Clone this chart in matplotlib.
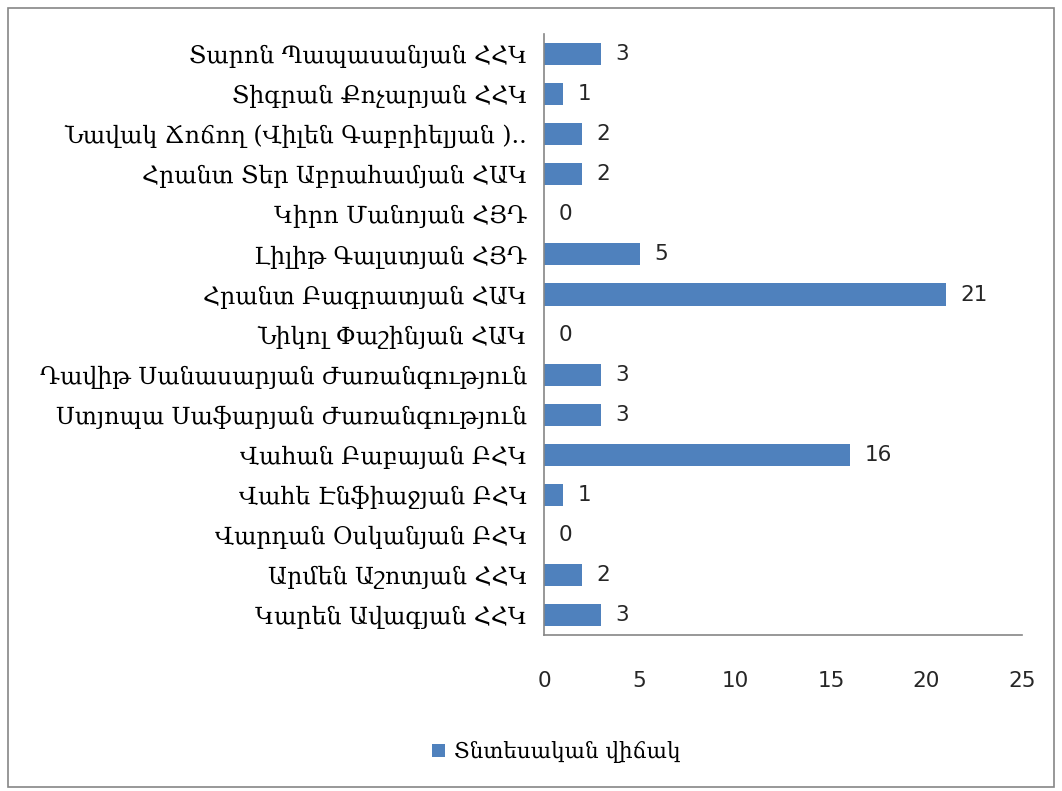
import matplotlib.pyplot as plt
from matplotlib.patches import Rectangle

# Data (top to bottom as shown in the chart)
candidates = [
    "Տարոն Պապասանյան ՀՀԿ",
    "Տիգրան Քոչարյան ՀՀԿ",
    "Նավակ Ճոճող (Վիլեն Գաբրիելյան )..",
    "Հրանտ Տեր Աբրահամյան ՀԱԿ",
    "Կիրո Մանոյան ՀՅԴ",
    "Լիլիթ Գալստյան ՀՅԴ",
    "Հրանտ Բագրատյան ՀԱԿ",
    "Նիկոլ Փաշինյան ՀԱԿ",
    "Դավիթ Սանասարյան Ժառանգություն",
    "Ստյոպա Սաֆարյան Ժառանգություն",
    "Վահան Բաբայան ԲՀԿ",
    "Վահե Էնֆիաջյան ԲՀԿ",
    "Վարդան Օսկանյան ԲՀԿ",
    "Արմեն Աշոտյան ՀՀԿ",
    "Կարեն Ավագյան ՀՀԿ",
]
values = [3, 1, 2, 2, 0, 5, 21, 0, 3, 3, 16, 1, 0, 2, 3]
series_name = "Տնտեսական վիճակ"
xticks = [0, 5, 10, 15, 20, 25]

bar_color = "#4F81BD"

fig = plt.figure(figsize=(10.62, 7.91), dpi=100)
ax = fig.add_axes([0.5122, 0.197, 0.4503, 0.760])

y = list(range(len(candidates)))[::-1]
ax.barh(y, values, height=0.55, color=bar_color, label=series_name)

for yi, v in zip(y, values):
    ax.text(v + 0.75, yi, str(v), va="center", ha="left",
            fontsize=15.5, family="DejaVu Sans", color="#262626")

ax.set_xlim(0, 25)
ax.set_ylim(-0.5, len(candidates) - 0.5)
ax.set_yticks(y)
ax.set_yticklabels(candidates, family="DejaVu Serif", fontsize=17)
ax.set_xticks(xticks)
ax.set_xticklabels([str(t) for t in xticks], family="DejaVu Sans", fontsize=15.5,
                   color="#262626")
ax.tick_params(axis="both", length=0)
ax.tick_params(axis="x", pad=26)
ax.tick_params(axis="y", pad=12)

for side in ["top", "right"]:
    ax.spines[side].set_visible(False)
for side in ["left", "bottom"]:
    ax.spines[side].set_color("#868686")
    ax.spines[side].set_linewidth(1.2)

leg = fig.legend(loc="center", bbox_to_anchor=(0.524, 0.049), frameon=False,
                 prop={"family": "DejaVu Serif", "size": 15.5},
                 handlelength=0.6, handleheight=0.6, handletextpad=0.4)

# outer chart border
fig.patches.append(Rectangle((0.008, 0.005), 0.984, 0.985, transform=fig.transFigure,
                             fill=False, edgecolor="#868686", linewidth=1.2))

fig.savefig("out.png", dpi=100)
